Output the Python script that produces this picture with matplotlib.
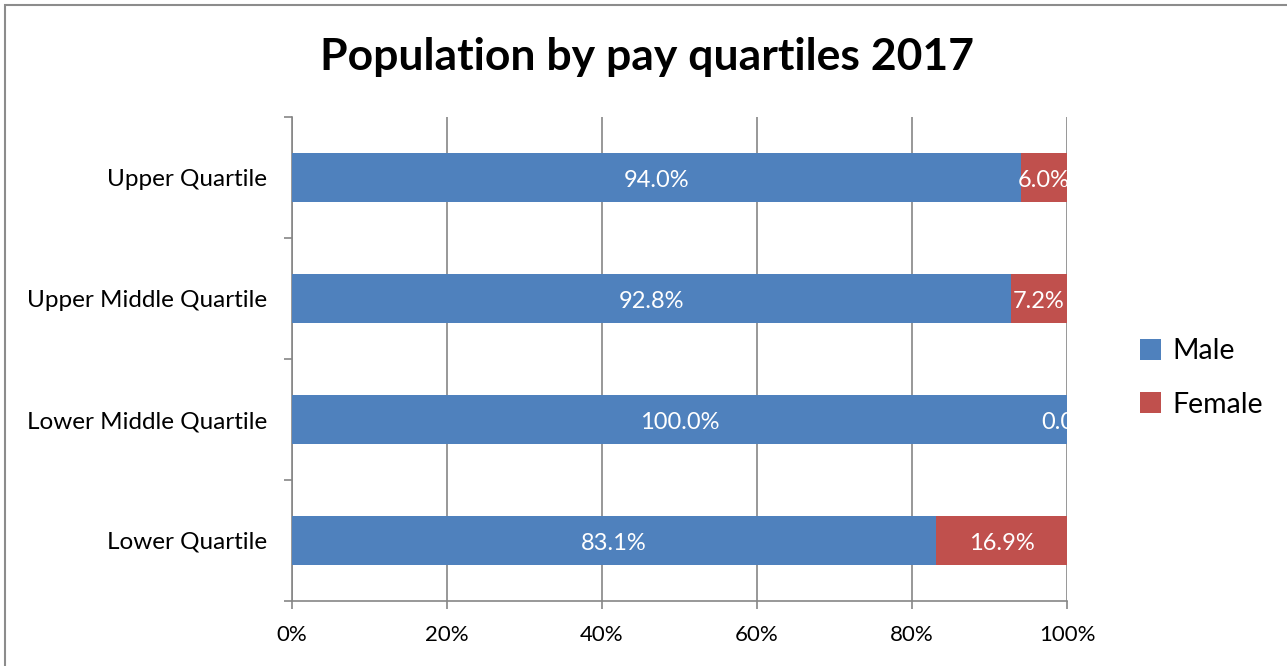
"""Population by pay quartiles 2017 - stacked horizontal bar chart."""

import numpy as np
from matplotlib import pyplot as plt
from matplotlib.patches import Rectangle
from matplotlib.ticker import FixedLocator

categories = ["Upper Quartile", "Upper Middle Quartile",
              "Lower Middle Quartile", "Lower Quartile"]
male = [94.0, 92.8, 100.0, 83.1]
female = [6.0, 7.2, 0.0, 16.9]
x_ticks = [0, 20, 40, 60, 80, 100]

BLUE, RED, GRID = "#4F81BD", "#C0504D", "#868686"
FONT = ["Lato", "DejaVu Sans"]

plt.rcParams["font.family"] = FONT

fig = plt.figure(figsize=(12.87, 6.66), dpi=100)
ax = fig.add_axes([292 / 1287, 1 - 601 / 666, 775 / 1287, 484 / 666])

# рамка всей диаграммы (правый и нижний край за пределами картинки)
fig.add_artist(Rectangle((5 / 1287, -0.05), 1.2, 1 - 5 / 666 + 0.05,
                         transform=fig.transFigure, fill=False,
                         edgecolor="#8c8c8c", linewidth=1.5))

y = np.arange(len(categories))
bm = ax.barh(y, male, height=0.4, color=BLUE, zorder=3)
bf = ax.barh(y, female, left=male, height=0.4, color=RED, zorder=3)

for bars, vals in ((bm, male), (bf, female)):
    for rect, v in zip(bars, vals):
        cx = rect.get_x() + rect.get_width() / 2
        cy = rect.get_y() + rect.get_height() / 2 + 0.025
        ax.text(cx, cy, f"{v:.1f}%", ha="center", va="center",
                color="white", fontsize=17, zorder=4, clip_on=True)

ax.set_xlim(0, 100)
ax.set_ylim(len(categories) - 0.5, -0.5)
ax.set_xticks(x_ticks, [f"{t}%" for t in x_ticks], fontsize=16)
ax.set_yticks(y, categories, fontsize=17.5)
ax.yaxis.set_minor_locator(FixedLocator(np.arange(-0.5, len(categories), 1)))
ax.tick_params(axis="y", which="major", length=0, pad=18)
ax.tick_params(axis="y", which="minor", length=6, color=GRID, width=1.2)
ax.tick_params(axis="x", length=6, color=GRID, width=1.2, pad=11)

ax.grid(axis="x", color=GRID, linewidth=1.2, zorder=0)
for side in ("top", "right"):
    ax.spines[side].set_visible(False)
for side in ("left", "bottom"):
    ax.spines[side].set_color(GRID)
    ax.spines[side].set_linewidth(1.2)

fig.text(647 / 1287, 1 - 57 / 666, "Population by pay quartiles 2017",
         ha="center", va="center", fontsize=32, fontweight="bold")

ax.legend([bm, bf], ["Male", "Female"], loc="center left",
          bbox_to_anchor=(1114 / 1287, 1 - 378 / 666),
          bbox_transform=fig.transFigure, frameon=False, fontsize=20.5,
          handlelength=0.75, handleheight=0.75, handletextpad=0.4,
          labelspacing=0.95)

fig.savefig("out.png", dpi=100)
